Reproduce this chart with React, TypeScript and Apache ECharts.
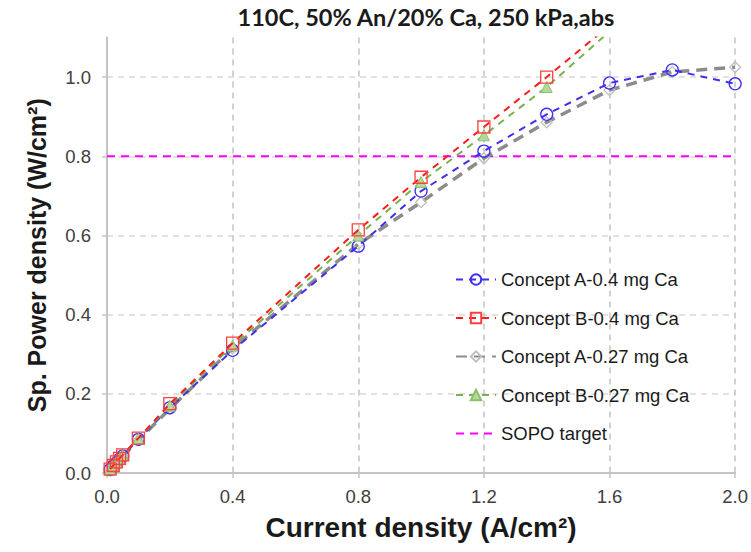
import React, { useEffect, useRef } from "react";
import * as echarts from "echarts";

const xCurrent = [0.01, 0.02, 0.03, 0.04, 0.05, 0.1, 0.2, 0.4, 0.8, 1.0, 1.2, 1.4, 1.6, 1.8, 2.0];
const conceptA04 = [0.009, 0.018, 0.026, 0.035, 0.043, 0.085, 0.165, 0.31, 0.573, 0.712, 0.813, 0.906, 0.985, 1.018, 0.983];
const conceptB04 = [0.01, 0.019, 0.028, 0.037, 0.046, 0.088, 0.175, 0.328, 0.614, 0.747, 0.874, 1.0, 1.13];
const conceptA027 = [0.009, 0.017, 0.026, 0.034, 0.042, 0.083, 0.162, 0.315, 0.578, 0.684, 0.795, 0.886, 0.967, 1.013, 1.025];
const conceptB027 = [0.01, 0.019, 0.027, 0.036, 0.045, 0.087, 0.17, 0.322, 0.6, 0.735, 0.853, 0.975, 1.115];
const sopoTarget = 0.8;
const sopoRange = [0, 2.0];
const yTicks = [0, 0.2, 0.4, 0.6, 0.8, 1.0];

const seriesNames = [
  "Concept A-0.4 mg Ca",
  "Concept B-0.4 mg Ca",
  "Concept A-0.27 mg Ca",
  "Concept B-0.27 mg Ca",
  "SOPO target",
];

const pair = (vals: number[]) => vals.map((v, i) => [xCurrent[i], v]);

export default function App() {
  const ref = useRef<HTMLDivElement>(null);
  useEffect(() => {
    if (!ref.current) return;
    const chart = echarts.init(ref.current, null, { renderer: "svg" });
    const axisFont = "'Liberation Sans', Arial, sans-serif";
    chart.setOption({
      animation: false,
      backgroundColor: "#ffffff",
      graphic: [
        {
          type: "text",
          x: 426,
          y: 17,
          style: {
            text: "110C, 50% An/20% Ca, 250 kPa,abs",
            font: "bold 23.5px Lato, 'Open Sans', sans-serif",
            fill: "#1a1a1a",
            textAlign: "center",
            textVerticalAlign: "middle",
          },
        },
      ],
      grid: { left: 107, right: 12, top: 37.5, bottom: 79, containLabel: false },
      legend: {
        orient: "vertical",
        left: 450,
        top: 265,
        itemGap: 19.5,
        itemWidth: 40,
        itemHeight: 13,
        data: seriesNames.map((n, i) =>
          i === 4 ? { name: n, itemStyle: { opacity: 0 } } : { name: n }
        ),
        textStyle: { fontSize: 18.5, lineHeight: 18, color: "#1a1a1a", fontFamily: axisFont },
      },
      xAxis: {
        type: "value",
        min: 0,
        max: 2.0,
        interval: 0.4,
        name: "Current density (A/cm²)",
        nameLocation: "middle",
        nameGap: 40,
        nameTextStyle: { fontSize: 28, fontWeight: "bold", color: "#1a1a1a", fontFamily: axisFont },
        axisLine: { show: true, lineStyle: { color: "#c4c4c4", width: 2 } },
        axisTick: { show: true, length: 5, lineStyle: { color: "#c4c4c4", width: 1.5 } },
        axisLabel: {
          fontSize: 18.5,
          color: "#404040",
          fontFamily: axisFont,
          margin: 14,
          formatter: (v: number) => v.toFixed(1),
        },
        splitLine: { show: true, lineStyle: { color: "#c4c4c4", width: 1.5, type: [6, 5] } },
      },
      yAxis: {
        type: "value",
        min: 0,
        max: 1.1,
        interval: 0.2,
        name: "Sp. Power density (W/cm²)",
        nameLocation: "middle",
        nameGap: 58,
        nameTextStyle: { fontSize: 25, fontWeight: "bold", color: "#1a1a1a", fontFamily: axisFont },
        axisLine: { show: true, lineStyle: { color: "#c4c4c4", width: 2 } },
        axisTick: { show: true, length: 5, customValues: yTicks, lineStyle: { color: "#c4c4c4", width: 1.5 } },
        axisLabel: {
          fontSize: 18.5,
          color: "#404040",
          fontFamily: axisFont,
          margin: 16,
          customValues: yTicks,
          formatter: (v: number) => v.toFixed(1),
        },
        splitLine: { show: true, lineStyle: { color: "#d9d9d9", width: 1.5, type: [6, 5] } },
      },
      series: [
        {
          name: seriesNames[0],
          type: "line",
          data: pair(conceptA04),
          symbol: "circle",
          symbolSize: 12,
          z: 3,
          itemStyle: { color: "rgba(255,255,255,0)", borderColor: "#3f2ff0", borderWidth: 1.3 },
          lineStyle: { color: "#3f2ff0", width: 2, type: [7, 6] },
        },
        {
          name: seriesNames[1],
          type: "line",
          data: pair(conceptB04),
          symbol: "rect",
          symbolSize: 12,
          z: 4,
          itemStyle: { color: "rgba(255,255,255,0)", borderColor: "#ff4040", borderWidth: 1.3 },
          lineStyle: { color: "#ff1a1a", width: 2, type: [7, 6] },
        },
        {
          name: seriesNames[2],
          type: "line",
          data: pair(conceptA027),
          symbol: "diamond",
          symbolSize: 11,
          z: 2,
          itemStyle: { color: "rgba(255,255,255,0)", borderColor: "#c0c0c0", borderWidth: 1.3 },
          lineStyle: { color: "#8c8c8c", width: 3.5, type: [11, 7] },
        },
        {
          name: seriesNames[3],
          type: "line",
          data: pair(conceptB027),
          symbol: "triangle",
          symbolSize: 11,
          z: 3,
          itemStyle: { color: "#b5d99c", borderColor: "#8cc068", borderWidth: 1 },
          lineStyle: { color: "#77b150", width: 2, type: [7, 6] },
        },
        {
          name: seriesNames[4],
          type: "line",
          data: sopoRange.map((x) => [x, sopoTarget]),
          symbol: "none",
          z: 1,
          itemStyle: { color: "#ff00ff" },
          lineStyle: { color: "#ff00ff", width: 2, type: [8, 6] },
        },
      ],
    });
    return () => chart.dispose();
  }, []);
  return <div ref={ref} style={{ width: 751, height: 552, position: "absolute", left: 0, top: 0 }} />;
}
